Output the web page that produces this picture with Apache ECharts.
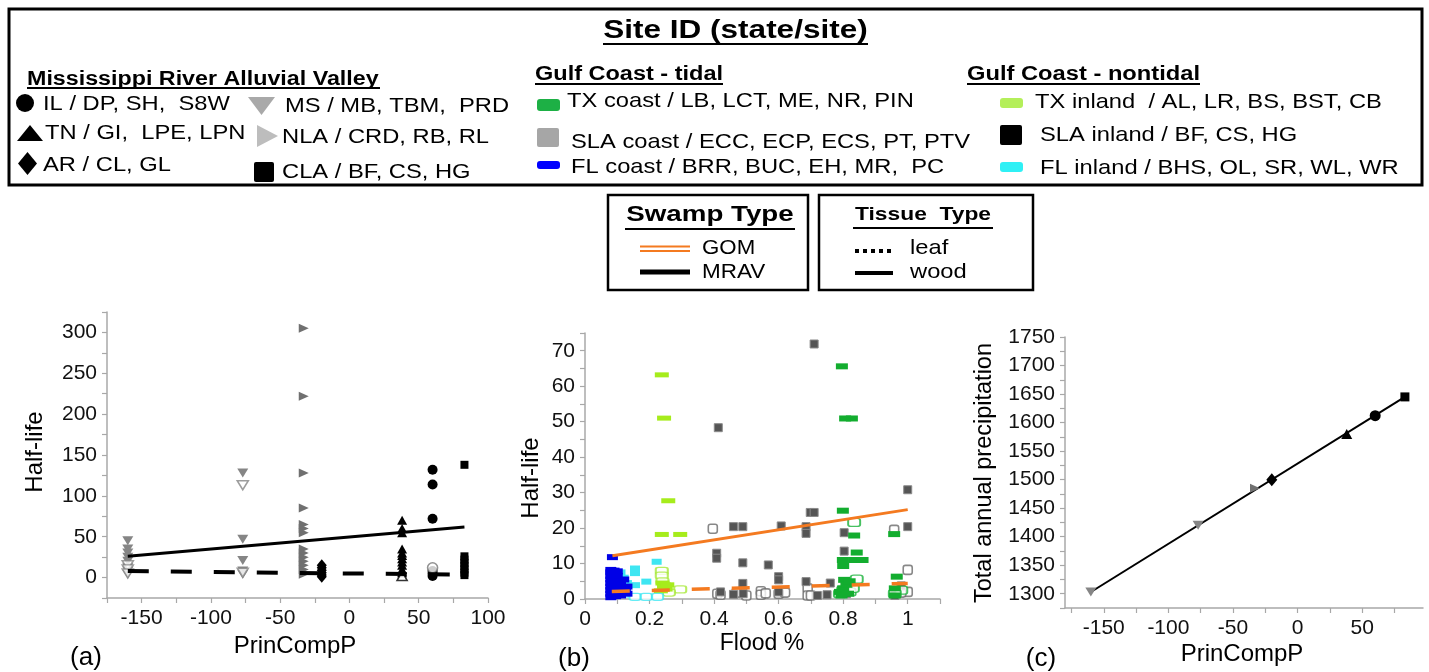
<!DOCTYPE html>
<html><head><meta charset="utf-8">
<script src="https://cdn.jsdelivr.net/npm/echarts@6/dist/echarts.min.js"></script>
<style>html,body{margin:0;padding:0;background:#fff}#c{width:1429px;height:672px}</style>
</head><body><div id="c"></div>
<script>
// ---------------- DATA ----------------
// Panel (a): PrinCompP vs Half-life
const aMSFilled = [[-160,45],[-160,35],[-160,30],[-160,25],[-160,20],[-160,12],[-160,8],[-160,4],[-77,128],[-77,47],[-77,21],[-77,8],[-77,4]];
const aMSOpen = [[-160,15],[-160,10],[-160,5],[-77,113],[-77,6]];
const aNLA = [[-33,305],[-33,222],[-33,128],[-33,85],[-33,65],[-33,60],[-33,55],[-33,35],[-33,30],[-33,25],[-33,20],[-33,15],[-33,10],[-33,4]];
const aAR = [[-20,15],[-20,12],[-20,9],[-20,6],[-20,3],[-20,1]];
const aTNFilled = [[38,70],[38,60],[38,55],[38,35],[38,30],[38,27],[38,23],[38,19],[38,15],[38,10],[38,6]];
const aTNOpen = [[38,2]];
const aILFilled = [[60,132],[60,114],[60,72],[60,8],[60,5],[60,2]];
const aILOpen = [[60,12]];
const aCLA = [[83,138],[83,26],[83,22],[83,18],[83,14],[83,10],[83,6],[83,3]];
const aWoodFit = [[-160,26],[83,62]];
const aLeafFit = [[-160,8],[83,3.5]];
const aXLabels = [-150,-100,-50,0,50,100];
const aXTicks = [-175,-150,-125,-100,-75,-50,-25,0,25,50,75,100];
const aYLabels = [0,50,100,150,200,250,300];
const aYTicks = [-25,0,25,50,75,100,125,150,175,200,225,250,275,300,325];

// Panel (b): Flood % vs Half-life
const bFLcoast = [[0.085,11.8],[0.08,8.2],[0.09,8.0],[0.08,7.5],[0.085,7],[0.08,6.5],[0.09,6],[0.08,5.5],[0.085,5],[0.08,4.5],[0.09,4],[0.08,3.5],[0.085,3],[0.08,2.5],[0.09,2],[0.08,1.5],[0.085,1],[0.08,0.5],[0.1,6.5],[0.105,5],[0.11,4],[0.12,3],[0.125,2],[0.13,1.5],[0.1,3.5],[0.11,1],[0.12,5.5],[0.13,3.5],[0.095,0.8],[0.1,2.5],[0.1,7.8]];
const bFLinlandFilled = [[0.155,8.6],[0.155,7.3],[0.222,10.5],[0.19,4.9],[0.155,3.9],[0.11,7.5],[0.12,6],[0.13,4.5],[0.115,3]];
const bFLinlandOpen = [[0.155,0.6],[0.19,0.6],[0.225,0.6],[0.12,1.5]];
const bTXinlandFilled = [[0.238,63.2],[0.245,51],[0.258,27.7],[0.238,18.2],[0.295,18.2],[0.24,4.5],[0.245,3.5],[0.25,2.8],[0.235,2.3],[0.255,4]];
const bTXinlandOpen = [[0.238,7.9],[0.238,6.6],[0.24,5],[0.245,3.8],[0.295,2.7],[0.26,1.8]];
const bSLAFilled = [[0.413,48.3],[0.71,71.9],[0.46,20.4],[0.489,20.4],[0.608,20.6],[0.685,20.4],[0.685,18.5],[0.698,24.4],[0.71,24.4],[0.408,12.9],[0.408,11.5],[0.489,10.2],[0.568,9.6],[0.6,6.3],[0.6,5.4],[0.489,4.4],[0.685,4.9],[0.46,1.3],[0.49,1.5],[0.75,1.2],[0.76,4.5],[0.803,18.7],[0.803,13.5],[1.0,30.8],[1.0,20.4],[0.98,3.7],[0.96,1.0],[0.42,2],[0.6,2.0],[0.72,1.0],[0.81,1.5]];
const bSLAOpen = [[0.396,19.8],[0.958,19.5],[1.0,8.2],[1.0,2],[0.41,1.5],[0.42,1.2],[0.545,2.2],[0.545,1.2],[0.56,1.6],[0.6,1.5],[0.69,3],[0.69,1],[0.7,1],[0.62,1.8],[0.5,1],[0.47,1.8],[0.98,1.8]];
const bTXcoastFilled = [[0.796,65.6],[0.806,50.9],[0.827,50.9],[0.799,24.9],[0.834,17.9],[0.958,18.3],[0.842,13.1],[0.799,11],[0.834,11],[0.86,11],[0.8,9.3],[0.803,5.4],[0.966,6.3],[0.96,1],[0.79,2],[0.8,3],[0.81,4],[0.795,1],[0.815,1.5],[0.82,5],[0.96,3]];
const bTXcoastOpen = [[0.834,21.6],[0.842,5.6],[0.8,2.5],[0.82,2],[0.83,3],[0.98,2.5],[0.96,1.5],[0.79,1.5]];
const bWoodFit = [[0.085,12.2],[1.0,25.2]];
const bLeafFit = [[0.083,2.1],[1.0,4.4]];
const bXLabels = [0,0.2,0.4,0.6,0.8,1];
const bXTicks = [0,0.1,0.2,0.3,0.4,0.5,0.6,0.7,0.8,0.9,1.0,1.1];
const bYLabels = [0,10,20,30,40,50,60,70];
const bYTicks = [0,5,10,15,20,25,30,35,40,45,50,55,60,65,70,75];

// Panel (c): PrinCompP vs Total annual precipitation
const cMS = [[-160,1303],[-77,1420]];
const cNLA = [[-33,1485]];
const cAR = [[-20,1500]];
const cTN = [[38,1580]];
const cIL = [[60,1612]];
const cCLA = [[83,1645]];
const cFit = [[-160,1303],[83,1645]];
const cXLabels = [-150,-100,-50,0,50];
const cXTicks = [-175,-150,-125,-100,-75,-50,-25,0,25,50,75];
const cYLabels = [1300,1350,1400,1450,1500,1550,1600,1650,1700,1750];
const cYTicks = [1275,1300,1325,1350,1375,1400,1425,1450,1475,1500,1525,1550,1575,1600,1625,1650,1675,1700,1725,1750];

// Legend texts
const siteTitle = 'Site ID (state/site)';
const groupHeads = ['Mississippi River Alluvial Valley','Gulf Coast - tidal','Gulf Coast - nontidal'];
const mravItems = ['IL / DP, SH,  S8W','TN / GI,  LPE, LPN','AR / CL, GL','MS / MB, TBM,  PRD','NLA / CRD, RB, RL','CLA / BF, CS, HG'];
const tidalItems = ['TX coast / LB, LCT, ME, NR, PIN','SLA coast / ECC, ECP, ECS, PT, PTV','FL coast / BRR, BUC, EH, MR,  PC'];
const nontidalItems = ['TX inland  / AL, LR, BS, BST, CB','SLA inland / BF, CS, HG','FL inland / BHS, OL, SR, WL, WR'];

// ---------------- CHART ----------------
const FONT = "'Liberation Sans', Arial, sans-serif";
const AXC = '#a8a8a8';
const ORANGE = '#f47a20';

function axis(min, max, labels, ticks, fmt) {
  return {
    type: 'value', min, max,
    splitLine: {show: false},
    axisLine: {show: true, onZero: false, lineStyle: {color: AXC, width: 1.5}},
    axisTick: {show: true, length: 5, customValues: ticks, lineStyle: {color: AXC, width: 1.2}},
    axisLabel: {customValues: labels, fontSize: 21, color: '#111', fontFamily: FONT, margin: 10,
      formatter: fmt || (v => String(v))}
  };
}
function sc(g, data, symbol, size, color, opt) {
  opt = opt || {};
  return {
    type: 'scatter', xAxisIndex: g, yAxisIndex: g, data, symbol, symbolSize: size,
    symbolRotate: opt.rot || 0,
    itemStyle: opt.open ? {color: '#fff', borderColor: color, borderWidth: 1.6} : {color, borderColor: opt.bc || color, borderWidth: opt.bw || 0, opacity: 1},
    z: opt.z || 3, silent: true
  };
}
function ln(g, data, color, width, type) {
  return {type: 'line', xAxisIndex: g, yAxisIndex: g, data, symbol: 'none', showSymbol: false,
    lineStyle: {color, width, type}, z: 5, silent: true};
}

const G = [];
function text(x, y, t, o) {
  o = o || {};
  G.push({type: 'text', x, y, rotation: o.rot || 0, scaleX: o.sx || 1, z: 10,
    style: {text: t, fontSize: o.fs || 21, fontWeight: o.bold ? 'bold' : 'normal', fontFamily: FONT,
      fill: '#000', align: o.align || 'left', verticalAlign: 'middle'}});
}
function line(x1, y1, x2, y2, w, color, dash) {
  G.push({type: 'line', z: 10, shape: {x1, y1, x2, y2}, style: {stroke: color || '#000', lineWidth: w, lineDash: dash || null}});
}
function rect(x, y, w, h, fill, r) {
  G.push({type: 'rect', z: 10, shape: {x, y, width: w, height: h, r: r || 0}, style: {fill}});
}
function poly(points, fill) {
  G.push({type: 'polygon', z: 10, shape: {points}, style: {fill}});
}

// top legend box
G.push({type: 'rect', z: 10, shape: {x: 9, y: 9, width: 1413, height: 176}, style: {fill: 'none', stroke: '#000', lineWidth: 3}});
text(735.5, 31, siteTitle, {fs: 25, bold: true, sx: 1.26, align: 'center'});
line(603, 44, 868, 44, 2);
text(27, 79, groupHeads[0], {fs: 20, bold: true, sx: 1.163});
line(27, 88, 380, 88, 2);
text(535, 74, groupHeads[1], {fs: 20, bold: true, sx: 1.175});
line(535, 84, 723, 84, 2);
text(967, 74, groupHeads[2], {fs: 20, bold: true, sx: 1.185});
line(967, 84, 1200, 84, 2);

// MRAV symbols
G.push({type: 'circle', z: 10, shape: {cx: 25, cy: 103, r: 9}, style: {fill: '#000'}});
poly([[17, 141], [30, 125], [43, 141]], '#000');
poly([[27.5, 152], [37, 163.5], [27.5, 175], [18, 163.5]], '#000');
poly([[248, 97], [275, 97], [261.5, 115]], '#a9a9a9');
poly([[257, 125], [278, 136], [257, 147]], '#bdbdbd');
rect(254, 162, 20, 20, '#000', 2);
const ISX = 1.13;
text(43, 104, mravItems[0], {sx: ISX});
text(45, 133, mravItems[1], {sx: ISX});
text(43, 165, mravItems[2], {sx: ISX});
text(285, 106, mravItems[3], {sx: ISX});
text(282, 137, mravItems[4], {sx: ISX});
text(282, 172, mravItems[5], {sx: ISX});
// tidal
rect(537, 99, 23, 12, '#1db045', 3);
rect(537, 128, 22, 19, '#a6a6a6', 2);
rect(537, 161, 23, 8, '#0000ff', 3);
text(567, 101, tidalItems[0], {sx: ISX});
text(571, 142, tidalItems[1], {sx: ISX});
text(571, 167, tidalItems[2], {sx: ISX});
// nontidal
rect(1000, 98, 23, 10, '#b4ef5a', 3);
rect(1000, 125, 22, 20, '#000', 2);
rect(1000, 162, 23, 10, '#2ff0f5', 3);
text(1035, 102, nontidalItems[0], {sx: ISX});
text(1040, 135, nontidalItems[1], {sx: ISX});
text(1040, 168, nontidalItems[2], {sx: ISX});

// Swamp type box
G.push({type: 'rect', z: 10, shape: {x: 608, y: 195, width: 200, height: 95}, style: {fill: 'none', stroke: '#000', lineWidth: 2.5}});
text(710, 215, 'Swamp Type', {fs: 22, bold: true, sx: 1.26, align: 'center'});
line(625, 229, 795, 229, 2);
line(640, 246.5, 690, 246.5, 2, ORANGE);
line(640, 251, 690, 251, 2, ORANGE);
line(640, 272, 690, 272, 5, '#000');
text(702, 248, 'GOM', {sx: 1.06});
text(702, 272, 'MRAV', {sx: 1.07});
// Tissue type box
G.push({type: 'rect', z: 10, shape: {x: 819, y: 195, width: 214, height: 95}, style: {fill: 'none', stroke: '#000', lineWidth: 2.5}});
text(923, 215, 'Tissue  Type', {fs: 19, bold: true, sx: 1.2, align: 'center'});
line(853, 228, 993, 228, 2);
line(855, 251, 893, 251, 4, '#000', [4, 4]);
line(855, 273, 893, 273, 4, '#000');
text(910, 248, 'leaf', {sx: 1.13});
text(910, 272, 'wood', {sx: 1.13});

// axis titles & panel labels
text(35, 452, 'Half-life', {fs: 24, rot: Math.PI / 2, align: 'center'});
text(295, 646, 'PrinCompP', {fs: 24, align: 'center'});
text(86, 658, '(a)', {fs: 26, align: 'center'});
text(531, 478, 'Half-life', {fs: 24, rot: Math.PI / 2, align: 'center'});
text(762, 644, 'Flood %', {fs: 23, align: 'center'});
text(574, 659, '(b)', {fs: 26, align: 'center'});
text(985, 473, 'Total annual precipitation', {fs: 23.5, rot: Math.PI / 2, align: 'center'});
text(1242, 654, 'PrinCompP', {fs: 24, align: 'center'});
text(1041, 659, '(c)', {fs: 26, align: 'center'});

const fmtB = v => (v === 0 ? '0' : v === 1 ? '1' : String(+v.toFixed(1)));

const GRAY1 = '#858585', GRAY2 = '#707070';
const option = {
  backgroundColor: '#fff',
  animation: false,
  grid: [
    {left: 107, top: 312, width: 381, height: 286},
    {left: 585, top: 333, width: 355, height: 266},
    {left: 1065, top: 337, width: 358, height: 271}
  ],
  xAxis: [
    Object.assign(axis(-175, 100, aXLabels, aXTicks), {gridIndex: 0}),
    Object.assign(axis(0, 1.1, bXLabels, bXTicks, fmtB), {gridIndex: 1}),
    Object.assign(axis(-180, 97, cXLabels, cXTicks), {gridIndex: 2})
  ],
  yAxis: [
    Object.assign(axis(-25, 325, aYLabels, aYTicks), {gridIndex: 0}),
    Object.assign(axis(0, 75, bYLabels, bYTicks), {gridIndex: 1}),
    Object.assign(axis(1275, 1750, cYLabels, cYTicks), {gridIndex: 2})
  ],
  graphic: G,
  series: [
    // panel a
    ln(0, aWoodFit, '#000', 3, 'solid'),
    ln(0, aLeafFit, '#000', 4, [21, 22]),
    sc(0, aMSFilled, 'triangle', [11, 9], GRAY1, {rot: 180}),
    sc(0, aMSOpen, 'triangle', [11, 9], GRAY1, {rot: 180, open: true}),
    sc(0, aNLA, 'triangle', [9, 10], GRAY2, {rot: -90}),
    sc(0, aAR, 'diamond', [10, 12], '#000'),
    sc(0, aTNFilled, 'triangle', [10, 9], '#000'),
    sc(0, aTNOpen, 'triangle', [10, 9], '#000', {open: true}),
    sc(0, aILFilled, 'circle', 10, '#000'),
    sc(0, aILOpen, 'circle', 10, '#777', {open: true}),
    sc(0, aCLA, 'rect', 8, '#000'),
    // panel b
    sc(1, bSLAOpen, 'roundRect', [9, 9], '#6a6a6a', {open: true}),
    sc(1, bSLAFilled, 'rect', [8, 8], '#555', {bc: '#8a8a8a', bw: 1}),
    sc(1, bTXcoastOpen, 'roundRect', [12, 8], '#19b13a', {open: true}),
    sc(1, bTXcoastFilled, 'rect', [12, 6], '#13ad2f'),
    sc(1, bTXinlandOpen, 'roundRect', [12, 7], '#a8e83a', {open: true}),
    sc(1, bTXinlandFilled, 'rect', [14, 5], '#a6ec1c'),
    sc(1, bFLinlandOpen, 'roundRect', [11, 7], '#3fe7f2', {open: true}),
    sc(1, bFLinlandFilled, 'rect', [10, 6], '#3ee6f2'),
    sc(1, bFLcoast, 'rect', [11, 6], '#0000e6'),
    ln(1, bWoodFit, ORANGE, 3, 'solid'),
    ln(1, bLeafFit, ORANGE, 3.5, [18, 22]),
    // panel c
    ln(2, cFit, '#000', 2, 'solid'),
    sc(2, cMS, 'triangle', [11, 9], GRAY1, {rot: 180, z: 6}),
    sc(2, cNLA, 'triangle', [9, 10], GRAY2, {rot: -90, z: 6}),
    sc(2, cAR, 'diamond', [11, 13], '#000', {z: 6}),
    sc(2, cTN, 'triangle', [11, 10], '#000', {z: 6}),
    sc(2, cIL, 'circle', 11, '#000', {z: 6}),
    sc(2, cCLA, 'rect', 9, '#000', {z: 6})
  ]
};
const chart = echarts.init(document.getElementById('c'), null, {renderer: 'canvas', width: 1429, height: 672});
chart.setOption(option);
</script></body></html>
